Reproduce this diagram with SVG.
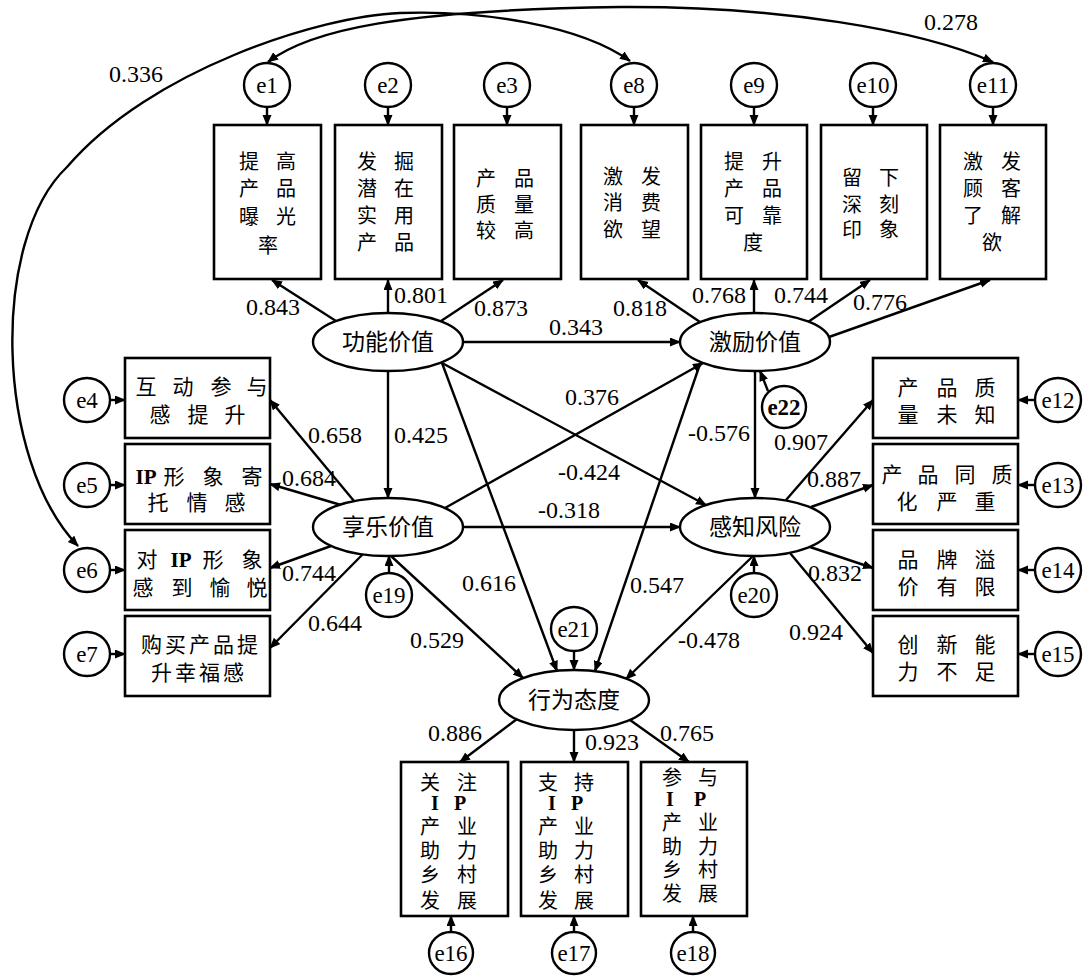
<svg xmlns="http://www.w3.org/2000/svg" width="1087" height="976" viewBox="0 0 1087 976">
<defs>
<marker id="ah" markerWidth="12" markerHeight="10" refX="10" refY="4.5" orient="auto-start-reverse" markerUnits="userSpaceOnUse"><path d="M0,0 L11,4.5 L0,9 z" fill="#000"/></marker>
</defs>
<style>
rect{fill:#fff;stroke:#000;stroke-width:2.6}
ellipse{fill:#fff;stroke:#000;stroke-width:2.4}
.ln{fill:none;stroke:#000;stroke-width:2.4;marker-end:url(#ah)}
.bi{fill:none;stroke:#000;stroke-width:2.4;marker-end:url(#ah);marker-start:url(#ah)}
text{font-family:"Liberation Serif","Noto Sans CJK SC",serif;text-anchor:middle;dominant-baseline:central;fill:#000}
.c{font-size:20px}
.s{font-size:21px}
.L{font-size:23px}
.n{font-size:24px}
.e{font-size:23px}
.b{font-weight:bold}
</style>

<g id="connectors">
<path class="bi" d="M268 62 C310 30 400 10 620 7 C780 6 920 30 993 62"/>
<path class="bi" d="M630 61 C580 25 480 10 400 13 C320 16 150 70 67 167 C-10 240 -5 460 78 546"/>
<line class="ln" x1="267" y1="107" x2="267" y2="125"/>
<line class="ln" x1="388" y1="107" x2="388" y2="125"/>
<line class="ln" x1="507" y1="107" x2="507" y2="125"/>
<line class="ln" x1="634" y1="107" x2="634" y2="125"/>
<line class="ln" x1="754" y1="107" x2="754" y2="125"/>
<line class="ln" x1="873" y1="107" x2="873" y2="125"/>
<line class="ln" x1="993" y1="107" x2="993" y2="125"/>
<line class="ln" x1="336" y1="321" x2="272" y2="280"/>
<line class="ln" x1="388" y1="313" x2="388" y2="280"/>
<line class="ln" x1="441" y1="321" x2="503" y2="280"/>
<line class="ln" x1="700" y1="322" x2="638" y2="280"/>
<line class="ln" x1="754" y1="313" x2="754" y2="280"/>
<line class="ln" x1="808" y1="322" x2="870" y2="280"/>
<line class="ln" x1="829" y1="337" x2="990" y2="280"/>
<line class="ln" x1="463" y1="342" x2="680" y2="342"/>
<line class="ln" x1="388" y1="371" x2="388" y2="498"/>
<line class="ln" x1="755" y1="371" x2="755" y2="498"/>
<line class="ln" x1="463" y1="527" x2="680" y2="527"/>
<line class="ln" x1="442" y1="363" x2="706" y2="505"/>
<line class="ln" x1="445" y1="508" x2="703" y2="363"/>
<line class="ln" x1="442" y1="363" x2="557" y2="671"/>
<line class="ln" x1="700" y1="364" x2="595" y2="671"/>
<line class="ln" x1="391" y1="556" x2="523" y2="678"/>
<line class="ln" x1="753" y1="556" x2="626" y2="679"/>
<line class="ln" x1="389" y1="573" x2="389" y2="556"/>
<line class="ln" x1="754" y1="573" x2="754" y2="556"/>
<line class="ln" x1="574" y1="651" x2="574" y2="670"/>
<line class="ln" x1="768" y1="391" x2="760" y2="371"/>
<line class="ln" x1="354" y1="501" x2="270" y2="400"/>
<line class="ln" x1="341" y1="505" x2="270" y2="484"/>
<line class="ln" x1="331" y1="546" x2="270" y2="568"/>
<line class="ln" x1="363" y1="554" x2="270" y2="648"/>
<line class="ln" x1="786" y1="500" x2="873" y2="400"/>
<line class="ln" x1="811" y1="507" x2="873" y2="485"/>
<line class="ln" x1="810" y1="547" x2="873" y2="568"/>
<line class="ln" x1="790" y1="553" x2="873" y2="653"/>
<line class="ln" x1="110" y1="400" x2="125" y2="400"/>
<line class="ln" x1="110" y1="485" x2="125" y2="485"/>
<line class="ln" x1="110" y1="570" x2="125" y2="570"/>
<line class="ln" x1="110" y1="654" x2="125" y2="654"/>
<line class="ln" x1="1035" y1="400" x2="1018" y2="400"/>
<line class="ln" x1="1035" y1="485" x2="1018" y2="485"/>
<line class="ln" x1="1035" y1="570" x2="1018" y2="570"/>
<line class="ln" x1="1035" y1="654" x2="1018" y2="654"/>
<line class="ln" x1="517" y1="719" x2="460" y2="762"/>
<line class="ln" x1="574" y1="730" x2="574" y2="762"/>
<line class="ln" x1="630" y1="720" x2="689" y2="762"/>
<line class="ln" x1="451" y1="931" x2="451" y2="916"/>
<line class="ln" x1="574" y1="931" x2="574" y2="916"/>
<line class="ln" x1="693" y1="931" x2="693" y2="916"/>
</g>

<g id="labels">
<text class="n" x="951" y="22">0.278</text>
<text class="n" x="136" y="74">0.336</text>
<text class="n" x="273" y="307">0.843</text>
<text class="n" x="421" y="295">0.801</text>
<text class="n" x="501" y="308">0.873</text>
<text class="n" x="640" y="308">0.818</text>
<text class="n" x="719" y="295">0.768</text>
<text class="n" x="801" y="295">0.744</text>
<text class="n" x="880" y="302">0.776</text>
<text class="n" x="576" y="327">0.343</text>
<text class="n" x="592" y="397">0.376</text>
<text class="n" x="421" y="435">0.425</text>
<text class="n" x="335" y="435">0.658</text>
<text class="n" x="309" y="478">0.684</text>
<text class="n" x="589" y="472">-0.424</text>
<text class="n" x="569" y="510">-0.318</text>
<text class="n" x="719" y="433">-0.576</text>
<text class="n" x="801" y="442">0.907</text>
<text class="n" x="834" y="479">0.887</text>
<text class="n" x="309" y="573">0.744</text>
<text class="n" x="489" y="583">0.616</text>
<text class="n" x="657" y="585">0.547</text>
<text class="n" x="835" y="573">0.832</text>
<text class="n" x="335" y="623">0.644</text>
<text class="n" x="437" y="640">0.529</text>
<text class="n" x="709" y="640">-0.478</text>
<text class="n" x="816" y="632">0.924</text>
<text class="n" x="455" y="733">0.886</text>
<text class="n" x="612" y="742">0.923</text>
<text class="n" x="687" y="733">0.765</text>
</g>

<g id="e1"><ellipse cx="267" cy="85" rx="23" ry="22"/><text class="e" x="267" y="85">e1</text></g>
<g id="e2"><ellipse cx="388" cy="85" rx="23" ry="22"/><text class="e" x="388" y="85">e2</text></g>
<g id="e3"><ellipse cx="507" cy="85" rx="23" ry="22"/><text class="e" x="507" y="85">e3</text></g>
<g id="e8"><ellipse cx="634" cy="85" rx="23" ry="22"/><text class="e" x="634" y="85">e8</text></g>
<g id="e9"><ellipse cx="754" cy="85" rx="23" ry="22"/><text class="e" x="754" y="85">e9</text></g>
<g id="e10"><ellipse cx="873" cy="85" rx="23" ry="22"/><text class="e" x="873" y="85">e10</text></g>
<g id="e11"><ellipse cx="993" cy="85" rx="23" ry="22"/><text class="e" x="993" y="85">e11</text></g>

<g id="x1"><rect x="214" y="125" width="107" height="154"/><text class="c" x="249 286" y="162">提高</text><text class="c" x="249 286" y="189">产品</text><text class="c" x="249 286" y="217">曝光</text><text class="c" x="268" y="246">率</text></g>
<g id="x2"><rect x="335" y="125" width="107" height="154"/><text class="c" x="367 404" y="162">发掘</text><text class="c" x="367 404" y="189">潜在</text><text class="c" x="367 404" y="216">实用</text><text class="c" x="367 404" y="243">产品</text></g>
<g id="x3"><rect x="454" y="125" width="107" height="154"/><text class="c" x="486 524" y="179">产品</text><text class="c" x="486 524" y="205">质量</text><text class="c" x="486 524" y="231">较高</text></g>
<g id="x8"><rect x="581" y="125" width="107" height="154"/><text class="c" x="613 651" y="177">激发</text><text class="c" x="613 651" y="203">消费</text><text class="c" x="613 651" y="230">欲望</text></g>
<g id="x9"><rect x="701" y="125" width="106" height="154"/><text class="c" x="734 772" y="162">提升</text><text class="c" x="734 772" y="189">产品</text><text class="c" x="734 772" y="216">可靠</text><text class="c" x="753" y="243">度</text></g>
<g id="x10"><rect x="821" y="125" width="106" height="154"/><text class="c" x="852 889" y="178">留下</text><text class="c" x="852 889" y="205">深刻</text><text class="c" x="852 889" y="230">印象</text></g>
<g id="x11"><rect x="940" y="125" width="106" height="154"/><text class="c" x="973 1011" y="162">激发</text><text class="c" x="973 1011" y="189">顾客</text><text class="c" x="973 1011" y="216">了解</text><text class="c" x="992" y="243">欲</text></g>

<g id="F"><ellipse cx="388" cy="342" rx="75" ry="29"/><text class="L" x="388" y="342">功能价值</text></g>
<g id="J"><ellipse cx="755" cy="342" rx="75" ry="29"/><text class="L" x="755" y="342">激励价值</text></g>
<g id="H"><ellipse cx="388" cy="527" rx="75" ry="29"/><text class="L" x="388" y="527">享乐价值</text></g>
<g id="R"><ellipse cx="755" cy="527" rx="75" ry="29"/><text class="L" x="755" y="527">感知风险</text></g>
<g id="B"><ellipse cx="574" cy="700" rx="75" ry="30"/><text class="L" x="574" y="700">行为态度</text></g>

<g id="e22"><ellipse cx="784" cy="407" rx="22" ry="21"/><text class="e b" x="784" y="407">e22</text></g>
<g id="e19"><ellipse cx="389" cy="595" rx="23" ry="22"/><text class="e" x="389" y="595">e19</text></g>
<g id="e20"><ellipse cx="754" cy="595" rx="23" ry="22"/><text class="e" x="754" y="595">e20</text></g>
<g id="e21"><ellipse cx="574" cy="629" rx="23" ry="22"/><text class="e" x="574" y="629">e21</text></g>

<g id="e4"><ellipse cx="87" cy="400" rx="23" ry="22"/><text class="e" x="87" y="400">e4</text></g>
<g id="e5"><ellipse cx="87" cy="485" rx="23" ry="22"/><text class="e" x="87" y="485">e5</text></g>
<g id="e6"><ellipse cx="87" cy="570" rx="23" ry="22"/><text class="e" x="87" y="570">e6</text></g>
<g id="e7"><ellipse cx="87" cy="654" rx="23" ry="22"/><text class="e" x="87" y="654">e7</text></g>
<g id="x4"><rect x="125" y="358" width="145" height="80"/><text class="s" x="146 183 221 257" y="387">互动参与</text><text class="s" x="160 198 235" y="415">感提升</text></g>
<g id="x5"><rect x="125" y="444" width="145" height="80"/><text class="s" y="477"><tspan class="b" x="146">IP</tspan><tspan x="174">形</tspan><tspan x="213">象</tspan><tspan x="252">寄</tspan></text><text class="s" x="158 197 235" y="503">托情感</text></g>
<g id="x6"><rect x="125" y="530" width="145" height="80"/><text class="s" y="560"><tspan x="147">对</tspan><tspan class="b" x="181">IP</tspan><tspan x="213">形</tspan><tspan x="252">象</tspan></text><text class="s" x="143 182 220 257" y="588">感到愉悦</text></g>
<g id="x7"><rect x="125" y="616" width="145" height="80"/><text class="s" x="141 165 189 213 237" y="645" style="text-anchor:start">购买产品提</text><text class="s" x="151 175 199 223" y="673" style="text-anchor:start">升幸福感</text></g>

<g id="e12"><ellipse cx="1058" cy="400" rx="23" ry="22"/><text class="e" x="1058" y="400">e12</text></g>
<g id="e13"><ellipse cx="1058" cy="485" rx="23" ry="22"/><text class="e" x="1058" y="485">e13</text></g>
<g id="e14"><ellipse cx="1058" cy="570" rx="23" ry="22"/><text class="e" x="1058" y="570">e14</text></g>
<g id="e15"><ellipse cx="1058" cy="654" rx="23" ry="22"/><text class="e" x="1058" y="654">e15</text></g>
<g id="x12"><rect x="873" y="358" width="145" height="80"/><text class="s" x="908 947 985" y="388">产品质</text><text class="s" x="908 947 985" y="415">量未知</text></g>
<g id="x13"><rect x="873" y="444" width="145" height="80"/><text class="s" x="892 928 965 1002" y="475">产品同质</text><text class="s" x="907 947 985" y="502">化严重</text></g>
<g id="x14"><rect x="873" y="530" width="145" height="80"/><text class="s" x="908 947 985" y="560">品牌溢</text><text class="s" x="908 947 985" y="587">价有限</text></g>
<g id="x15"><rect x="873" y="616" width="145" height="80"/><text class="s" x="908 947 985" y="645">创新能</text><text class="s" x="908 947 985" y="672">力不足</text></g>

<g id="x16"><rect x="401" y="762" width="107" height="154"/><text class="c" x="430 467" y="783">关注</text><text class="c b" x="435 460" y="803">IP</text><text class="c" x="430 467" y="827">产业</text><text class="c" x="430 467" y="851">助力</text><text class="c" x="430 467" y="875">乡村</text><text class="c" x="430 467" y="901">发展</text></g>
<g id="x17"><rect x="521" y="762" width="107" height="154"/><text class="c" x="548 584" y="783">支持</text><text class="c b" x="552 577" y="803">IP</text><text class="c" x="548 584" y="827">产业</text><text class="c" x="548 584" y="851">助力</text><text class="c" x="548 584" y="875">乡村</text><text class="c" x="548 584" y="901">发展</text></g>
<g id="x18"><rect x="641" y="762" width="106" height="154"/><text class="c" x="672 708" y="778">参与</text><text class="c b" x="670 700" y="799">IP</text><text class="c" x="672 708" y="823">产业</text><text class="c" x="672 708" y="847">助力</text><text class="c" x="672 708" y="870">乡村</text><text class="c" x="672 708" y="894">发展</text></g>
<g id="e16"><ellipse cx="451" cy="953" rx="22" ry="21"/><text class="e" x="451" y="953">e16</text></g>
<g id="e17"><ellipse cx="574" cy="953" rx="22" ry="21"/><text class="e" x="574" y="953">e17</text></g>
<g id="e18"><ellipse cx="693" cy="953" rx="22" ry="21"/><text class="e" x="693" y="953">e18</text></g>
</svg>
